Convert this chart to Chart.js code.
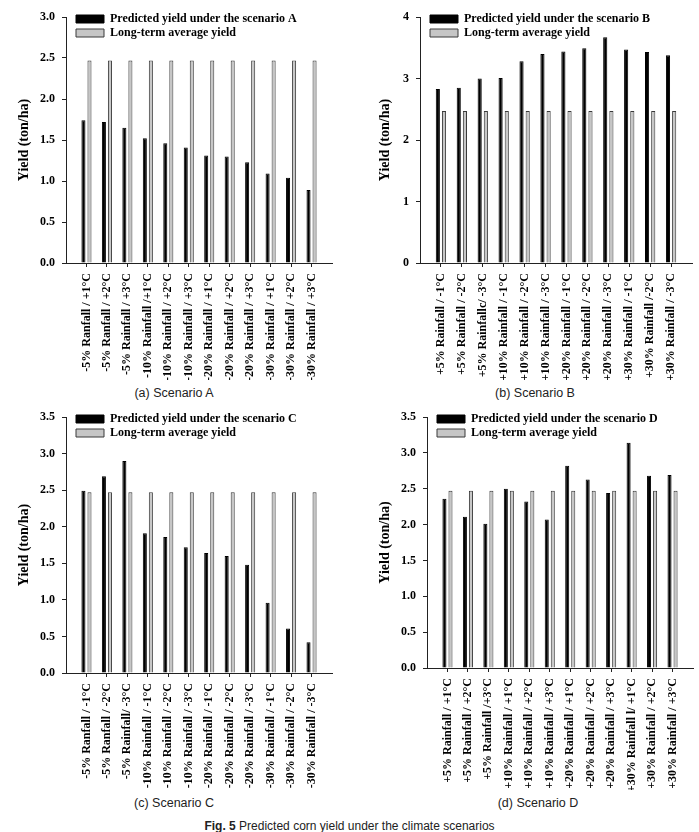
<!DOCTYPE html>
<html>
<head>
<meta charset="utf-8">
<title>Predicted corn yield under the climate scenarios</title>
<script src="https://cdn.jsdelivr.net/npm/chart.js@4"></script>
<style>
  body { margin: 0; background: #fff; }
  #fig { position: relative; width: 699px; height: 832px; font-family: 'Liberation Sans', Arial, sans-serif; color: #222; }
  .panel { position: absolute; }
  .caption { position: absolute; width: 300px; text-align: center; font-size: 12.5px; line-height: 16px; }
  .figcap { position: absolute; left: 0; width: 699px; text-align: center; font-size: 12px; line-height: 16px; }
</style>
</head>
<body>
<div id="fig">
  <canvas id="chartA" class="panel" width="345" height="380" style="left:0;top:0"></canvas>
  <canvas id="chartB" class="panel" width="349" height="380" style="left:350px;top:0"></canvas>
  <canvas id="chartC" class="panel" width="345" height="380" style="left:0;top:410px"></canvas>
  <canvas id="chartD" class="panel" width="349" height="380" style="left:350px;top:410px"></canvas>
  <div class="caption" style="left:24px;top:385px">(a) Scenario A</div>
  <div class="caption" style="left:385px;top:385px">(b) Scenario B</div>
  <div class="caption" style="left:24px;top:795px">(c) Scenario C</div>
  <div class="caption" style="left:388px;top:795px">(d) Scenario D</div>
  <div class="figcap" style="top:818px"><b>Fig. 5</b> Predicted corn yield under the climate scenarios</div>
</div>

<script>
"use strict";

// tick labels of each panel (typos kept as in the figure)
const labelsA = ["-5% Ranfall / +1°C", "-5% Ranfall / +2°C", "-5% Rainfall / +3°C",
  "-10% Rainfall /+1°C", "-10% Rainfall / +2°C", "-10% Rainfall / +3°C",
  "-20% Rainfall / +1°C", "-20% Rainfall / +2°C", "-20% Rainfall / +3°C",
  "-30% Rainfall / +1°C", "-30% Rainfall / +2°C", "-30% Rainfall / +3°C"];
const labelsB = ["+5% Rainfall / -1°C", "+5% Rainfall / -2°C", "+5% Rainfallc/ -3°C",
  "+10% Rainfall / -1°C", "+10% Rainfall / -2°C", "+10% Rainfall / -3°C",
  "+20% Rainfall / -1°C", "+20% Rainfall / -2°C", "+20% Rainfall / -3°C",
  "+30% Rainfall / -1°C", "+30% Rainfall /-2°C", "+30% Rainfall / -3°C"];
const labelsC = ["-5% Ranfall / -1°C", "-5% Ranfall / -2°C", "-5% Rainfall/ -3°C",
  "-10% Rainfall / -1°C", "-10% Rainfall / -2°C", "-10% Rainfall / -3°C",
  "-20% Rainfall / -1°C", "-20% Rainfall / -2°C", "-20% Rainfall / -3°C",
  "-30% Rainfall / -1°C", "-30% Rainfall / -2°C", "-30% Rainfall / -3°C"];
const labelsD = ["+5% Rainfall / +1°C", "+5% Rainfall / +2°C", "+5% Rainfall /+3°C",
  "+10% Rainfall / +1°C", "+10% Rainfall / +2°C", "+10% Rainfall / +3°C",
  "+20% Rainfall / +1°C", "+20% Rainfall / +2°C", "+20% Rainfall / +3°C",
  "+30% Rainfall l/ +1°C", "+30% Rainfall / +2°C", "+30% Rainfall / +3°C"];

// predicted yield (ton/ha)
const predA = [1.74, 1.72, 1.65, 1.52, 1.46, 1.41, 1.31, 1.30, 1.23, 1.09, 1.04, 0.89];
const predB = [2.83, 2.85, 3.00, 3.01, 3.28, 3.40, 3.44, 3.49, 3.67, 3.47, 3.43, 3.38];
const predC = [2.49, 2.69, 2.90, 1.91, 1.86, 1.72, 1.64, 1.60, 1.48, 0.96, 0.61, 0.42];
const predD = [2.36, 2.11, 2.01, 2.50, 2.32, 2.07, 2.82, 2.63, 2.44, 3.14, 2.68, 2.69];

// long-term average yield
const avgYield = [2.47, 2.47, 2.47, 2.47, 2.47, 2.47, 2.47, 2.47, 2.47, 2.47, 2.47, 2.47];

Chart.defaults.font.family = "'Liberation Serif', 'Times New Roman', serif";
Chart.defaults.color = "#000";

// legend sits inside the plot, top-left
const legendNudge = {
  id: "legendNudge",
  afterLayout(chart) {
    const lg = chart.legend;
    lg.left = chart.chartArea.left + 8;
    lg.top = chart.chartArea.top - 6;
  }
};

function makeChart(id, cfg) {
  const canvas = document.getElementById(id);
  const toPoints = (arr) => arr.map((v, i) => ({ x: i, y: v }));
  const axisColor = "#222";

  return new Chart(canvas, {
    type: "bar",
    data: {
      datasets: [
        {
          label: "Predicted yield under the scenario " + cfg.letter,
          data: toPoints(cfg.pred),
          backgroundColor: "#000",
          borderColor: "#000",
          borderWidth: 1,
          categoryPercentage: 0.59,
          barPercentage: 0.67
        },
        {
          label: "Long-term average yield",
          data: toPoints(avgYield),
          backgroundColor: "#c6c6c6",
          borderColor: "#3a3a3a",
          borderWidth: 1,
          categoryPercentage: 0.59,
          barPercentage: 0.67
        }
      ]
    },
    options: {
      responsive: false,
      animation: false,
      layout: {
        padding: { left: cfg.padLeft, top: cfg.top, right: canvas.width - cfg.right, bottom: 0 }
      },
      plugins: {
        legend: {
          position: "chartArea",
          align: "start",
          labels: {
            boxWidth: 28,
            boxHeight: 8,
            padding: 2,
            color: "#000",
            font: { size: 12, weight: "bold" }
          }
        },
        tooltip: { enabled: false }
      },
      scales: {
        x: {
          type: "linear",
          min: -1,
          max: 12,
          offset: false,
          afterFit: (s) => {
            s.height = canvas.height - cfg.bottom;
            s.paddingLeft = 0;
            s.paddingRight = 0;
          },
          grid: {
            offset: false,
            drawOnChartArea: false,
            tickLength: 4,
            tickColor: (ctx) => (ctx.tick && ctx.tick.label === "" ? "rgba(0,0,0,0)" : axisColor)
          },
          border: { color: axisColor },
          ticks: {
            stepSize: 1,
            autoSkip: false,
            minRotation: 90,
            maxRotation: 90,
            padding: 6,
            color: "#000",
            font: { size: 12, weight: "bold" },
            callback: (v) => cfg.labels[v] ?? ""
          }
        },
        y: {
          min: 0,
          max: cfg.yMax,
          afterFit: (s) => {
            s.width = cfg.axisW;
            s.paddingTop = 0;
            s.paddingBottom = 0;
          },
          grid: { drawOnChartArea: false, tickLength: 4, tickColor: axisColor },
          border: { color: axisColor },
          title: {
            display: true,
            text: "Yield (ton/ha)",
            color: "#000",
            padding: 0,
            font: { size: 14, weight: "bold" }
          },
          ticks: {
            stepSize: cfg.yStep,
            padding: 7,
            color: "#000",
            font: { size: 12, weight: "bold" },
            callback: (v) => (cfg.yStep < 1 ? v.toFixed(1) : v)
          }
        }
      }
    },
    plugins: [legendNudge]
  });
}

makeChart("chartA", { letter: "A", labels: labelsA, pred: predA, yMax: 3, yStep: 0.5,
  padLeft: 16, axisW: 50, top: 17, bottom: 263, right: 332 });
makeChart("chartB", { letter: "B", labels: labelsB, pred: predB, yMax: 4, yStep: 1,
  padLeft: 27, axisW: 43, top: 17, bottom: 263, right: 342 });
makeChart("chartC", { letter: "C", labels: labelsC, pred: predC, yMax: 3.5, yStep: 0.5,
  padLeft: 16, axisW: 50, top: 7, bottom: 263, right: 332 });
makeChart("chartD", { letter: "D", labels: labelsD, pred: predD, yMax: 3.5, yStep: 0.5,
  padLeft: 27, axisW: 50, top: 7, bottom: 258, right: 343 });
</script>
</body>
</html>
